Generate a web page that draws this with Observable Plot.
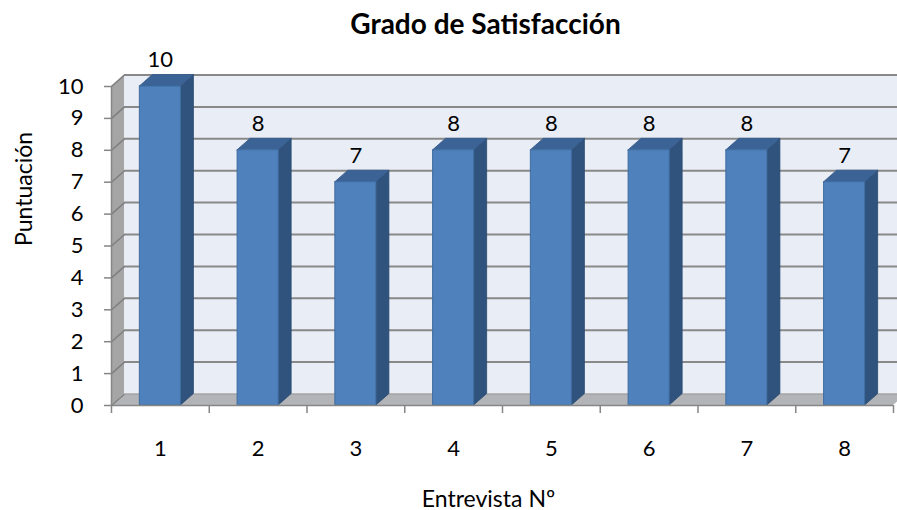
<!DOCTYPE html>
<html>
<head>
<meta charset="utf-8">
<script src="https://cdn.jsdelivr.net/npm/d3@7"></script>
<script src="https://cdn.jsdelivr.net/npm/@observablehq/plot@0.6"></script>
<style>
  html, body { margin: 0; padding: 0; background: #fff; overflow: hidden; }
</style>
</head>
<body>
<div id="chart"></div>
<script>
// ---- data ----
const categories = [1, 2, 3, 4, 5, 6, 7, 8];
const values = [10, 8, 7, 8, 8, 8, 8, 7];
const yTicks = [0, 1, 2, 3, 4, 5, 6, 7, 8, 9, 10];
const title = "Grado de Satisfacción";
const xTitle = "Entrevista Nº";
const yTitle = "Puntuación";

// ---- 3D geometry (in data units) ----
const DX = 0.133;   // depth offset along x
const DY = 0.36;    // depth offset along y
const HW = 0.21;    // half width of bar front face
const x0 = 0.5, x1 = categories.length + 0.5;
const yMax = 10;

const bars = categories.map((c, k) => ({i: c, v: values[k]}));

const sideFaces = bars.flatMap(d => [
  {i: d.i, x: d.i + HW, y1: 0, y2: d.v},
  {i: d.i, x: d.i + HW + DX, y1: DY, y2: d.v + DY}
]);
const topFaces = bars.flatMap(d => [
  {i: d.i, y: d.v, x1: d.i - HW, x2: d.i + HW},
  {i: d.i, y: d.v + DY, x1: d.i - HW + DX, x2: d.i + HW + DX}
]);
const leftWall = [
  {x: x0, y1: 0, y2: yMax},
  {x: x0 + DX, y1: DY, y2: yMax + DY}
];
const floor = [
  {y: 0, x1: x0, x2: x1},
  {y: DY, x1: x0 + DX, x2: x1 + DX}
];
const boundaries = d3.range(x0, x1 + 0.01, 1);

const font = "Lato, 'Open Sans', sans-serif";

const chart = Plot.plot({
  width: 897,
  height: 510,
  marginLeft: 111,
  marginRight: 4,
  marginTop: 86,
  marginBottom: 105,
  style: {fontFamily: font, fontSize: "22px", background: "#fff", color: "#000"},
  x: {type: "linear", domain: [x0, x1], axis: null},
  y: {type: "linear", domain: [0, yMax], axis: null},
  marks: [
    // back wall
    Plot.rect([0], {x1: x0 + DX, x2: x1 + DX, y1: DY, y2: yMax + DY, fill: "#e9edf6"}),
    // left side wall
    Plot.area(leftWall, {x1: "x", y1: "y1", y2: "y2", fill: "#a5a5a5"}),
    // floor
    Plot.areaX(floor, {y: "y", x1: "x1", x2: "x2", fill: "#b2b4b7"}),
    // gridlines on back wall
    Plot.ruleY(yTicks.filter(t => t > 0), {y: t => t + DY, x1: x0 + DX, x2: x1 + DX, stroke: "#898989", strokeWidth: 2}),
    // gridlines on side wall
    Plot.link(yTicks, {x1: x0, y1: t => t, x2: x0 + DX, y2: t => t + DY, stroke: "#7f7f7f", strokeWidth: 1.5}),
    // floor back edge
    Plot.link([0], {x1: x0 + DX, y1: DY, x2: x1 + DX, y2: DY, stroke: "#9a9a9a", strokeWidth: 1}),
    // bars: side faces
    Plot.area(sideFaces, {x1: "x", y1: "y1", y2: "y2", z: "i", fill: "#30537d", stroke: "#2a4a70", strokeWidth: 0.8}),
    // bars: top faces
    Plot.areaX(topFaces, {y: "y", x1: "x1", x2: "x2", z: "i", fill: "#3b6395", stroke: "#34598a", strokeWidth: 0.8}),
    // bars: front faces
    Plot.rect(bars, {x1: d => d.i - HW, x2: d => d.i + HW, y1: 0, y2: "v", fill: "#4f81bd", stroke: "#3f6c9f", strokeWidth: 1}),
    // value labels
    Plot.text(bars, {x: "i", y: d => d.v + DY, text: d => String(d.v), dy: -15, fontSize: 22, fill: "#000"}),
    // axis lines
    Plot.ruleX([x0], {y1: 0, y2: yMax, stroke: "#868686", strokeWidth: 1.5}),
    Plot.ruleY([0], {x1: x0, x2: x1, stroke: "#868686", strokeWidth: 1.5}),
    // y axis ticks & labels
    Plot.axisY(yTicks, {anchor: "left", tickSize: 7, tickPadding: 21, stroke: "#868686", strokeWidth: 1.5, fontSize: 22, label: null, tickFormat: d => String(d)}),
    // x axis tick marks at category boundaries
    Plot.axisX(boundaries, {anchor: "bottom", tickSize: 8, tickFormat: () => "", stroke: "#868686", strokeWidth: 1.5, label: null}),
    // x axis labels
    Plot.axisX(categories, {anchor: "bottom", tickSize: 0, tickPadding: 35, fontSize: 22, tickFormat: d => String(d), label: null}),
    // titles
    Plot.text([title], {frameAnchor: "top", dx: -17, dy: -72, fontSize: 28, fontWeight: "bold", fill: "#000"}),
    Plot.text([xTitle], {frameAnchor: "bottom", dx: -14, dy: 101, fontSize: 23, fill: "#000"}),
    Plot.text([yTitle], {frameAnchor: "left", dx: -87, rotate: -90, fontSize: 23, fill: "#000"})
  ]
});
document.getElementById("chart").appendChild(chart);
</script>
</body>
</html>
